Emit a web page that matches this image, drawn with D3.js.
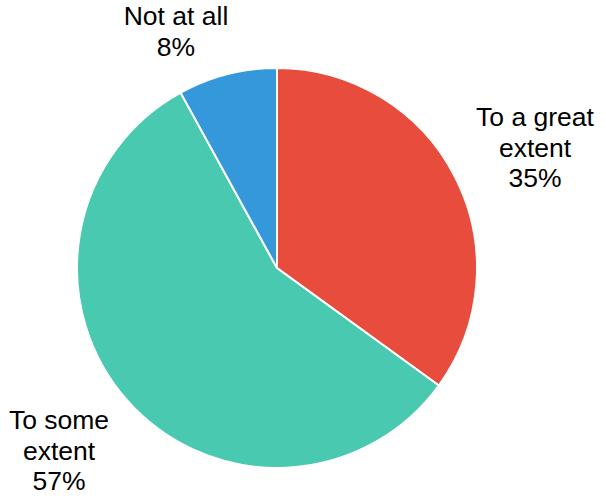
<!DOCTYPE html>
<html><head><meta charset="utf-8">
<script src="https://cdn.jsdelivr.net/npm/d3@7"></script>
<style>body{margin:0;background:#fff}</style></head>
<body><svg id="c" width="606" height="498"></svg>
<script>
const categories = ["To a great extent", "To some extent", "Not at all"];
const values = [35, 57, 8];
const labelLines = [["To a great", "extent", "35%"], ["To some", "extent", "57%"], ["Not at all", "8%"]];
const colors = ["#E74C3C", "#48C9B0", "#3498DB"];

const svg = d3.select("#c");
const cx = 277, cy = 268, r = 200;
const g = svg.append("g").attr("transform", `translate(${cx},${cy})`);
const pie = d3.pie().sort(null).value(d => d)(values);
const arc = d3.arc().innerRadius(0).outerRadius(r);
g.selectAll("path").data(pie).join("path")
  .attr("d", arc).attr("fill", (d, i) => colors[i])
  .attr("stroke", "#fff").attr("stroke-width", 2);

// label anchor positions (centre x, first baseline y)
const anchors = [[535, 126], [59, 429], [176, 25]];
const lh = 30.5;
labelLines.forEach((lines, i) => {
  const t = svg.append("text").attr("text-anchor", "middle")
    .attr("font-family", "Liberation Sans, Arial, sans-serif")
    .attr("font-size", 26.5).attr("fill", "#000");
  lines.forEach((l, j) => t.append("tspan").attr("x", anchors[i][0]).attr("y", anchors[i][1] + j * lh).text(l));
});
</script></body></html>
